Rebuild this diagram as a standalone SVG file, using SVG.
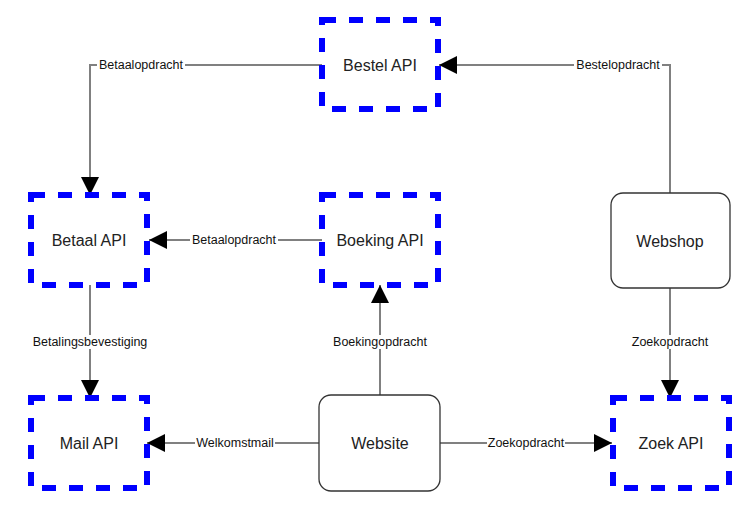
<svg xmlns="http://www.w3.org/2000/svg" width="751" height="510" viewBox="0 0 751 510">
<style>
.api{fill:#fff;stroke:#0000ff;stroke-width:6;stroke-dasharray:14 13}
.sys{fill:#fff;stroke:#333;stroke-width:1.3}
.t{font-family:"Liberation Sans",Arial,sans-serif;font-size:16px;fill:#222;text-anchor:middle;dominant-baseline:central}
.c{fill:none;stroke:#808080;stroke-width:2}
.l{font-family:"Liberation Sans",Arial,sans-serif;font-size:12.5px;fill:#111;text-anchor:middle;dominant-baseline:central}
.lb{fill:#fff}
</style>
<defs>
<marker id="ah" viewBox="0 0 18 18" refX="18" refY="9" markerWidth="18" markerHeight="18" markerUnits="userSpaceOnUse" orient="auto">
<path d="M0,0 L18,9 L0,18 Z" fill="#000"/>
</marker>
</defs>
<rect width="751" height="510" fill="#fff"/>
<g id="connectors">
<path class="c" d="M322,65 H90 V195" marker-end="url(#ah)"/>
<path class="c" d="M670,193 V65 H439" marker-end="url(#ah)"/>
<path class="c" d="M322,240 H149" marker-end="url(#ah)"/>
<path class="c" d="M90,285 V398" marker-end="url(#ah)"/>
<path class="c" d="M380,395 V285" marker-end="url(#ah)"/>
<path class="c" d="M319,443 H147" marker-end="url(#ah)"/>
<path class="c" d="M440,443 H612" marker-end="url(#ah)"/>
<path class="c" d="M670,288 V398" marker-end="url(#ah)"/>
<rect class="lb" x="97" y="58" width="88" height="14"/>
<text class="l" x="141" y="65">Betaalopdracht</text>
<rect class="lb" x="574" y="58" width="88" height="14"/>
<text class="l" x="618" y="65">Bestelopdracht</text>
<rect class="lb" x="190" y="233" width="88" height="14"/>
<text class="l" x="234" y="240">Betaalopdracht</text>
<rect class="lb" x="27" y="335" width="126" height="14"/>
<text class="l" x="90" y="342">Betalingsbevestiging</text>
<rect class="lb" x="331" y="335" width="98" height="14"/>
<text class="l" x="380" y="342">Boekingopdracht</text>
<rect class="lb" x="195" y="436" width="80" height="14"/>
<text class="l" x="235" y="443">Welkomstmail</text>
<rect class="lb" x="487" y="436" width="78" height="14"/>
<text class="l" x="526" y="443">Zoekopdracht</text>
<rect class="lb" x="631" y="335" width="78" height="14"/>
<text class="l" x="670" y="342">Zoekopdracht</text>
</g>
<g id="bestel"><rect class="api" x="322" y="20" width="116" height="89"/><text class="t" x="380" y="65">Bestel API</text></g>
<g id="betaal"><rect class="api" x="31" y="195" width="116" height="90"/><text class="t" x="89" y="240">Betaal API</text></g>
<g id="boeking"><rect class="api" x="322" y="195" width="116" height="90"/><text class="t" x="380" y="240">Boeking API</text></g>
<g id="webshop"><rect class="sys" x="611" y="193" width="119" height="95" rx="12"/><text class="t" x="670" y="241">Webshop</text></g>
<g id="mail"><rect class="api" x="31" y="398" width="116" height="90"/><text class="t" x="89" y="443">Mail API</text></g>
<g id="website"><rect class="sys" x="319" y="395" width="121" height="96" rx="12"/><text class="t" x="380" y="443">Website</text></g>
<g id="zoek"><rect class="api" x="613" y="398" width="116" height="90"/><text class="t" x="671" y="443">Zoek API</text></g>
</svg>
